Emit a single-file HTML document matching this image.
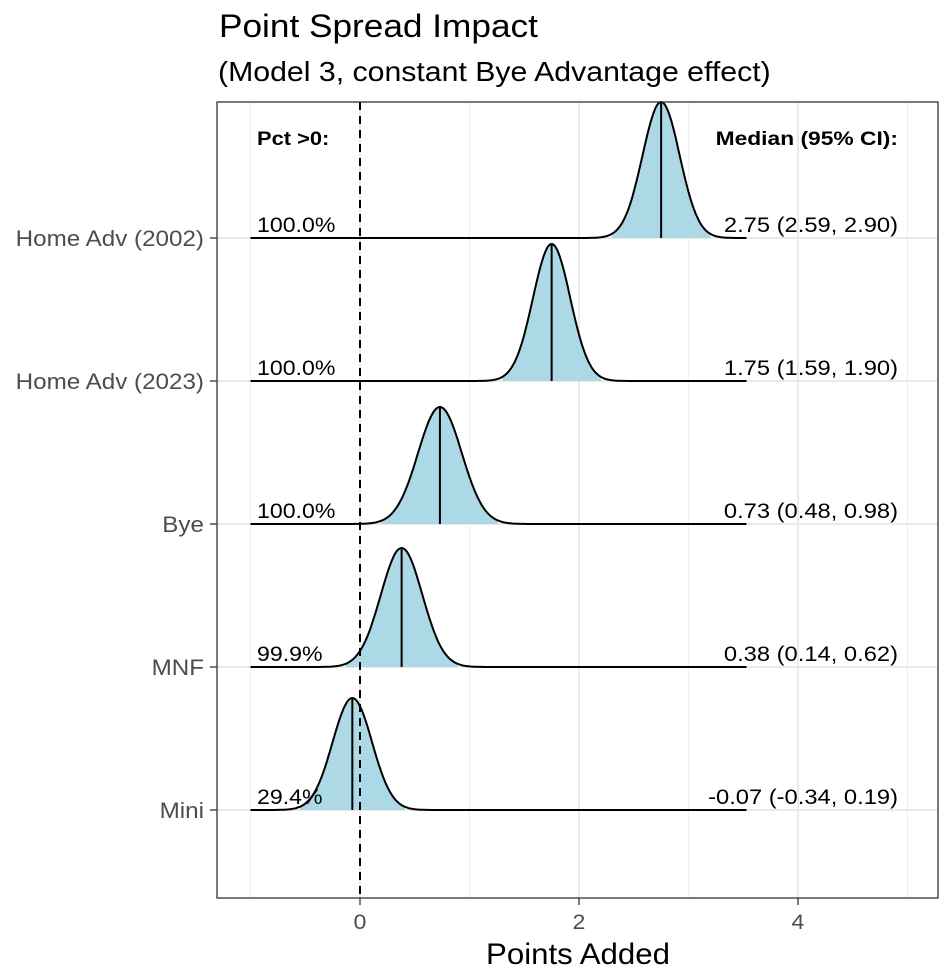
<!DOCTYPE html>
<html><head><meta charset="utf-8"><style>
body{margin:0;background:#fff;font-family:"Liberation Sans",Arial,sans-serif}
svg text{font-family:"Liberation Sans",Arial,sans-serif}
</style></head><body>
<svg id="chart" width="945" height="972" xmlns="http://www.w3.org/2000/svg">
<text id="ttl" x="219" y="37" font-size="32" fill="#000">Point Spread Impact</text>
<text id="sub" x="218" y="81" font-size="27.5" fill="#000">(Model 3, constant Bye Advantage effect)</text>
<rect x="217" y="102" width="721" height="796" fill="#fff"/>
<g id="grid"></g>
<g id="marks"></g>
<rect x="217" y="102" width="721" height="796" fill="none" stroke="#333" stroke-width="1.3"/>
<g id="axes"></g>
<text id="h1" x="257" y="145" font-size="19" font-weight="bold">Pct &gt;0:</text>
<text id="h2" x="898" y="145" font-size="19" font-weight="bold" text-anchor="end">Median (95% CI):</text>
<text id="xt" x="578" y="964" font-size="30" text-anchor="middle">Points Added</text>
</svg>
<script>
const categories=["Home Adv (2002)","Home Adv (2023)","Bye","MNF","Mini"];
const medians=[2.75,1.75,0.73,0.38,-0.07];
const spreads=[0.17,0.17,0.2,0.19,0.18];
const peakHeights=[136,137,117,119,112];
const pctLabels=["100.0%","100.0%","100.0%","99.9%","29.4%"];
const ciLabels=["2.75 (2.59, 2.90)","1.75 (1.59, 1.90)","0.73 (0.48, 0.98)","0.38 (0.14, 0.62)","-0.07 (-0.34, 0.19)"];
const xTicks=[0,2,4];
const xMinor=[-1,1,3,5];
const lineRange=[-1,3.53];

const NS="http://www.w3.org/2000/svg";
const xs=v=>360+v*109.5;
const ys=i=>238+i*143;
function mk(tag,attrs,parent){const e=document.createElementNS(NS,tag);for(const k in attrs)e.setAttribute(k,attrs[k]);parent.appendChild(e);return e;}
function stretch(el,k){const w=el.getComputedTextLength();el.setAttribute('textLength',(w*k).toFixed(1));el.setAttribute('lengthAdjust','spacingAndGlyphs');}
const grid=document.getElementById('grid'),marks=document.getElementById('marks'),axes=document.getElementById('axes');
xMinor.forEach(v=>{const l=mk('line',{x1:xs(v),x2:xs(v),y1:102,y2:898,stroke:'#f0f0f0','stroke-width':1.2},grid);

});
xTicks.forEach(v=>{const l=mk('line',{x1:xs(v),x2:xs(v),y1:102,y2:898,stroke:'#e3e3e3','stroke-width':1.5},grid);


const t=mk('line',{x1:xs(v),x2:xs(v),y1:898,y2:905,stroke:'#333','stroke-width':1.3},axes);


const tx=mk('text',{x:xs(v),y:929,'font-size':21,fill:'#4d4d4d','text-anchor':'middle'},axes);tx.textContent=v;


stretch(tx,1.1);});
categories.forEach((c,i)=>{const y=ys(i);
const hl=mk('line',{x1:217,x2:938,y1:y,y2:y,stroke:'#e3e3e3','stroke-width':1.5},grid);


const m=medians[i],s=spreads[i],h=peakHeights[i];
let pts=[];for(let x=lineRange[0];x<=lineRange[1]+1e-9;x+=0.01){const d=Math.exp(-0.5*((x-m)/s)**2);pts.push([xs(x),y-h*d,x]);}
const fillPts=pts.filter(p=>Math.abs(p[2]-m)<=2.7*s);
if(fillPts.length){const fp=mk('path',{d:'M'+fillPts[0][0]+','+y+' L'+fillPts.map(p=>p[0].toFixed(1)+','+p[1].toFixed(1)).join(' L')+' L'+fillPts[fillPts.length-1][0]+','+y+' Z',fill:'#add8e6'},marks);

}
const med=mk('line',{x1:xs(m),x2:xs(m),y1:y,y2:y-h,stroke:'#000','stroke-width':2},marks);


const p=mk('path',{d:'M'+pts.map(p=>p[0].toFixed(1)+','+p[1].toFixed(1)).join(' L'),fill:'none',stroke:'#000','stroke-width':2},marks);


const pl=mk('text',{x:257,y:y-6,'font-size':21,fill:'#000'},marks);pl.textContent=pctLabels[i];


stretch(pl,1.1);
const cl=mk('text',{x:898,y:y-6,'font-size':21,fill:'#000','text-anchor':'end'},marks);cl.textContent=ciLabels[i];


stretch(cl,1.13);
const yt=mk('line',{x1:210,x2:217,y1:y,y2:y,stroke:'#333','stroke-width':1.3},axes);


const yl=mk('text',{x:204,y:y+8,'font-size':22,fill:'#4d4d4d','text-anchor':'end'},axes);yl.textContent=c;


stretch(yl,1.1);});
const z=mk('line',{x1:xs(0),x2:xs(0),y1:102,y2:898,stroke:'#000','stroke-width':2,'stroke-dasharray':'8,6'},marks);


stretch(document.getElementById('ttl'),1.1);
stretch(document.getElementById('sub'),1.1);
stretch(document.getElementById('h1'),1.15);
stretch(document.getElementById('h2'),1.2);
stretch(document.getElementById('xt'),1.04);
</script>
</body></html>
